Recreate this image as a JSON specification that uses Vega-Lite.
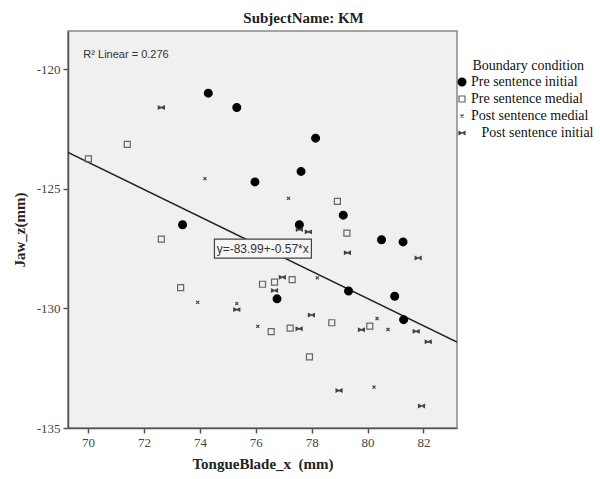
{
  "$schema": "https://vega.github.io/schema/vega-lite/v6.json",
  "autosize": "none",
  "width": 389,
  "height": 397,
  "padding": {"left": 68, "top": 31, "right": 143, "bottom": 51},
  "background": "white",
  "title": {"text": "SubjectName: KM", "font": "Liberation Serif", "fontSize": 15, "fontWeight": "bold", "color": "#222", "offset": 5, "dx": 41},
  "config": {
    "view": {"fill": "#f0f0f0", "stroke": "#888888", "strokeWidth": 1.5},
    "style": {
      "guide-label": {"font": "Liberation Serif", "fontSize": 13},
      "guide-title": {"font": "Liberation Serif", "fontSize": 13}
    },
    "axis": {"grid": false, "domainColor": "#555", "domainWidth": 1.5, "tickColor": "#555", "tickWidth": 1.5, "tickSize": 5, "labelFont": "Liberation Serif", "labelFontSize": 13, "labelColor": "#444", "titleFont": "Liberation Serif", "titleFontSize": 15, "titleFontWeight": "bold", "titleColor": "#222", "labelExpr": "replace(datum.label, '\u2212', '-')"},
    "legend": {"orient": "none", "legendX": 387, "legendY": 28}
  },
  "datasets": {
    "pts": [
      {"x": 74.30, "y": -121.0, "cond": "Pre sentence initial"},
      {"x": 75.32, "y": -121.6, "cond": "Pre sentence initial"},
      {"x": 73.38, "y": -126.5, "cond": "Pre sentence initial"},
      {"x": 78.14, "y": -122.88, "cond": "Pre sentence initial"},
      {"x": 77.62, "y": -124.27, "cond": "Pre sentence initial"},
      {"x": 75.97, "y": -124.71, "cond": "Pre sentence initial"},
      {"x": 79.13, "y": -126.1, "cond": "Pre sentence initial"},
      {"x": 77.56, "y": -126.5, "cond": "Pre sentence initial"},
      {"x": 80.5, "y": -127.13, "cond": "Pre sentence initial"},
      {"x": 81.27, "y": -127.22, "cond": "Pre sentence initial"},
      {"x": 76.76, "y": -129.6, "cond": "Pre sentence initial"},
      {"x": 79.32, "y": -129.27, "cond": "Pre sentence initial"},
      {"x": 80.97, "y": -129.49, "cond": "Pre sentence initial"},
      {"x": 81.29, "y": -130.47, "cond": "Pre sentence initial"},
      {"x": 71.40, "y": -123.14, "cond": "Pre sentence medial"},
      {"x": 70.01, "y": -123.75, "cond": "Pre sentence medial"},
      {"x": 78.92, "y": -125.52, "cond": "Pre sentence medial"},
      {"x": 72.62, "y": -127.1, "cond": "Pre sentence medial"},
      {"x": 73.31, "y": -129.13, "cond": "Pre sentence medial"},
      {"x": 79.26, "y": -126.85, "cond": "Pre sentence medial"},
      {"x": 76.24, "y": -128.99, "cond": "Pre sentence medial"},
      {"x": 76.67, "y": -128.9, "cond": "Pre sentence medial"},
      {"x": 77.3, "y": -128.8, "cond": "Pre sentence medial"},
      {"x": 76.55, "y": -130.97, "cond": "Pre sentence medial"},
      {"x": 77.23, "y": -130.82, "cond": "Pre sentence medial"},
      {"x": 78.72, "y": -130.6, "cond": "Pre sentence medial"},
      {"x": 80.08, "y": -130.74, "cond": "Pre sentence medial"},
      {"x": 77.92, "y": -132.03, "cond": "Pre sentence medial"},
      {"x": 74.18, "y": -124.57, "cond": "Post sentence medial"},
      {"x": 77.17, "y": -125.4, "cond": "Post sentence medial"},
      {"x": 73.92, "y": -129.75, "cond": "Post sentence medial"},
      {"x": 75.32, "y": -129.8, "cond": "Post sentence medial"},
      {"x": 78.2, "y": -128.72, "cond": "Post sentence medial"},
      {"x": 76.07, "y": -130.75, "cond": "Post sentence medial"},
      {"x": 80.34, "y": -130.42, "cond": "Post sentence medial"},
      {"x": 80.73, "y": -130.88, "cond": "Post sentence medial"},
      {"x": 80.23, "y": -133.29, "cond": "Post sentence medial"},
      {"x": 72.62, "y": -121.6, "cond": "Post sentence initial"},
      {"x": 75.32, "y": -130.05, "cond": "Post sentence initial"},
      {"x": 77.56, "y": -126.7, "cond": "Post sentence initial"},
      {"x": 77.88, "y": -126.8, "cond": "Post sentence initial"},
      {"x": 79.28, "y": -127.67, "cond": "Post sentence initial"},
      {"x": 81.81, "y": -127.89, "cond": "Post sentence initial"},
      {"x": 76.95, "y": -128.7, "cond": "Post sentence initial"},
      {"x": 76.67, "y": -129.25, "cond": "Post sentence initial"},
      {"x": 77.55, "y": -130.85, "cond": "Post sentence initial"},
      {"x": 77.99, "y": -130.28, "cond": "Post sentence initial"},
      {"x": 79.78, "y": -130.89, "cond": "Post sentence initial"},
      {"x": 81.74, "y": -130.96, "cond": "Post sentence initial"},
      {"x": 82.17, "y": -131.39, "cond": "Post sentence initial"},
      {"x": 78.98, "y": -133.43, "cond": "Post sentence initial"},
      {"x": 81.93, "y": -134.08, "cond": "Post sentence initial"}
    ],
    "fit": [
      {"x": 69.28, "y": -123.48},
      {"x": 83.2, "y": -131.41}
    ],
    "box": [
      {"x1": 74.52, "x2": 77.99, "y1": -127.1, "y2": -127.9, "tx": 74.6, "ty": -127.5, "label": "y=-83.99+-0.57*x"}
    ],
    "r2": [
      {"x": 69.83, "y": -119.4, "label": "R² Linear = 0.276"}
    ]
  },
  "layer": [
    {
      "data": {"name": "fit"},
      "mark": {"type": "line", "color": "#222", "strokeWidth": 1.5, "clip": true},
      "encoding": {
        "x": {"field": "x", "type": "quantitative", "scale": {"domain": [69.28, 83.2], "nice": false, "zero": false}, "axis": {"values": [70, 72, 74, 76, 78, 80, 82], "title": "TongueBlade_x\u00a0\u00a0(mm)", "labelPadding": 3, "titlePadding": 7}},
        "y": {"field": "y", "type": "quantitative", "scale": {"domain": [-135, -118.4], "nice": false, "zero": false}, "axis": {"values": [-120, -125, -130, -135], "title": "Jaw_z(mm)", "labelPadding": 3, "titlePadding": 9}}
      }
    },
    {
      "data": {"name": "box"},
      "mark": {"type": "rect", "fill": "#f6f6f6", "stroke": "#444", "strokeWidth": 1.2},
      "encoding": {
        "x": {"field": "x1", "type": "quantitative"},
        "x2": {"field": "x2"},
        "y": {"field": "y1", "type": "quantitative"},
        "y2": {"field": "y2"}
      }
    },
    {
      "data": {"name": "box"},
      "mark": {"type": "text", "align": "left", "baseline": "middle", "font": "Liberation Sans", "fontSize": 12, "color": "#333"},
      "encoding": {
        "x": {"field": "tx", "type": "quantitative"},
        "y": {"field": "ty", "type": "quantitative"},
        "text": {"field": "label"}
      }
    },
    {
      "data": {"name": "r2"},
      "mark": {"type": "text", "align": "left", "baseline": "middle", "font": "Liberation Sans", "fontSize": 11, "color": "#333"},
      "encoding": {
        "x": {"field": "x", "type": "quantitative"},
        "y": {"field": "y", "type": "quantitative"},
        "text": {"field": "label"}
      }
    },
    {
      "data": {"name": "pts"},
      "mark": {"type": "point", "opacity": 1, "strokeWidth": 1.2, "size": 100},
      "encoding": {
        "x": {"field": "x", "type": "quantitative"},
        "y": {"field": "y", "type": "quantitative"},
        "shape": {"field": "cond", "type": "nominal", "scale": {"domain": ["Pre sentence initial", "Pre sentence medial", "Post sentence medial", "Post sentence initial"], "range": ["M0.78,0A0.78,0.78 0 1,1 -0.78,0A0.78,0.78 0 1,1 0.78,0Z", "M-0.6,-0.6L0.6,-0.6L0.6,0.6L-0.6,0.6Z", "M-0.3,-0.3L0.3,0.3M-0.3,0.3L0.3,-0.3", "M-0.6,-0.3L0.6,0.3L0.6,-0.3L-0.6,0.3Z"]}, "title": "\u200c\u00a0\u00a0\u00a0\u00a0\u00a0Boundary condition",
          "legend": {"symbolSize": 100, "symbolStrokeWidth": 1.2, "titleFont": "Liberation Serif", "titleFontSize": 14, "titleFontWeight": "normal", "titleColor": "#111", "titlePadding": 2, "labelFont": "Liberation Serif", "labelFontSize": 14, "labelColor": "#111", "labelOffset": 2, "rowPadding": 3, "labelLimit": 200,
            "labelExpr": "datum.label == 'Post sentence initial' ? '\u200c\u00a0\u00a0\u00a0Post sentence initial' : datum.label"}},
        "fill": {"field": "cond", "type": "nominal", "scale": {"domain": ["Pre sentence initial", "Pre sentence medial", "Post sentence medial", "Post sentence initial"], "range": ["#000000", "transparent", "transparent", "#444444"]}, "title": "\u200c\u00a0\u00a0\u00a0\u00a0\u00a0Boundary condition"},
        "stroke": {"field": "cond", "type": "nominal", "scale": {"domain": ["Pre sentence initial", "Pre sentence medial", "Post sentence medial", "Post sentence initial"], "range": ["#000000", "#666666", "#444444", "#444444"]}, "title": "\u200c\u00a0\u00a0\u00a0\u00a0\u00a0Boundary condition"}
      }
    }
  ]
}
